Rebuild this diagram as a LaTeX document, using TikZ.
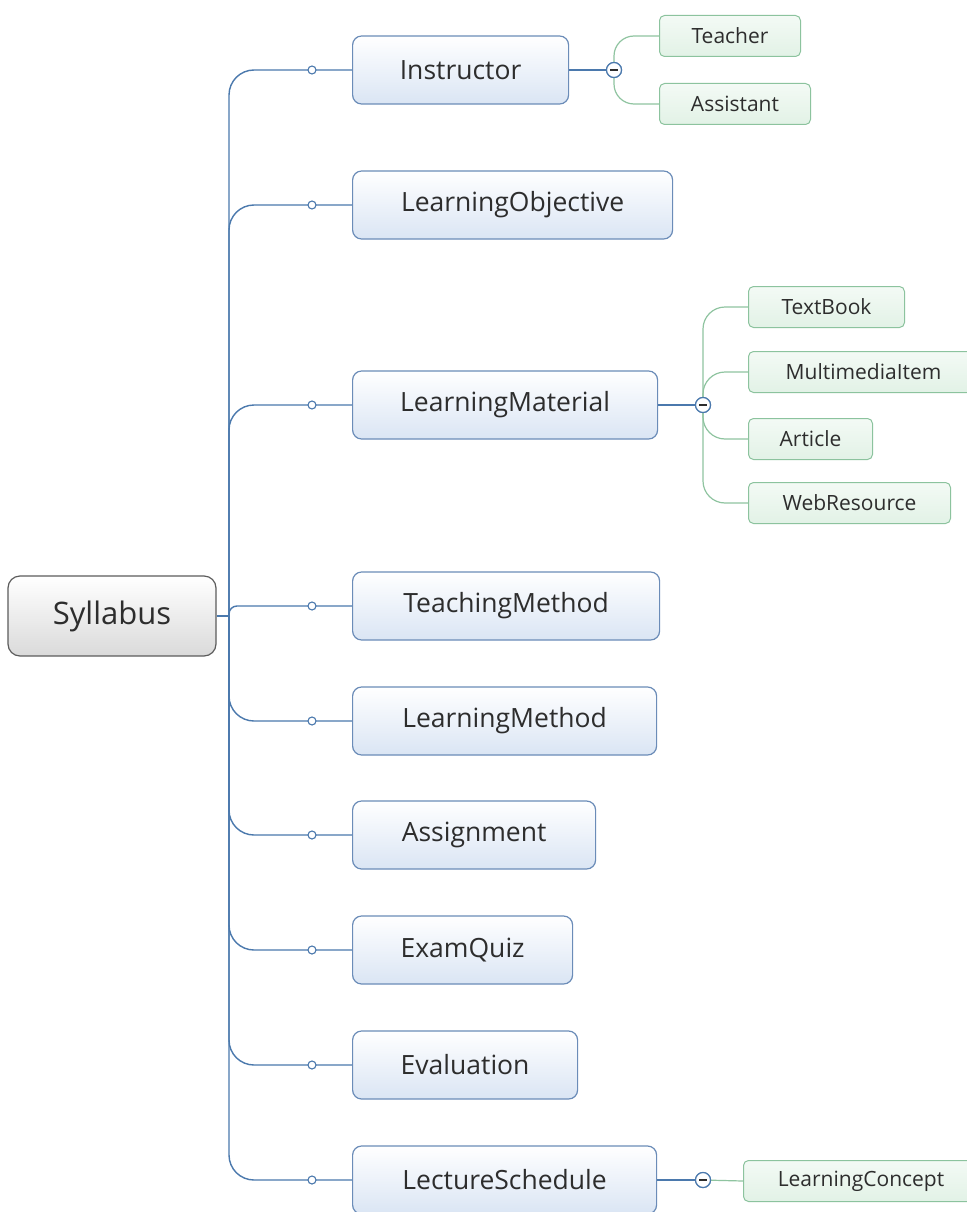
\documentclass[tikz,border=0pt]{standalone}
\usepackage{fontspec}
\setmainfont{Open Sans}
\definecolor{mainborder}{RGB}{107,140,184}
\definecolor{mainfill}{RGB}{218,229,244}
\definecolor{bline}{RGB}{75,121,173}
\definecolor{gborder}{RGB}{140,195,158}
\definecolor{gfill}{RGB}{226,242,230}
\definecolor{gline}{RGB}{143,196,160}
\definecolor{sborder}{RGB}{92,92,92}
\definecolor{sfill}{RGB}{218,218,218}
\definecolor{txt}{RGB}{45,45,45}
\tikzset{
  mainbox/.style={draw=mainborder, line width=1.2pt, rounded corners=9pt, top color=white, bottom color=mainfill, text=txt, font=\fontsize{26.5}{31}\selectfont, minimum height=68pt, inner sep=0pt, anchor=west},
  subbox/.style={draw=gborder, line width=1pt, rounded corners=5pt, top color=white!60!gfill, bottom color=gfill, text=txt, font=\fontsize{21}{25}\selectfont, minimum height=41pt, inner sep=0pt, anchor=west},
  rootbox/.style={draw=sborder, line width=1.2pt, rounded corners=12pt, top color=white, bottom color=sfill, text=txt, font=\fontsize{31}{37}\selectfont, minimum width=208pt, minimum height=80pt, inner sep=0pt},
  branch/.style={draw=bline, line width=1.4pt},
  gbranch/.style={draw=gline, line width=1.2pt},
  dot/.style={circle, draw=bline, fill=white, line width=1.1pt, minimum size=8pt, inner sep=0pt},
  collapse/.style={circle, draw=bline, fill=white, line width=1.2pt, minimum size=15pt, inner sep=0pt},
}
\newcommand{\minusin}[1]{\draw[txt, line width=1.4pt] ([xshift=-4pt]#1.center) -- ([xshift=4pt]#1.center);}
\begin{document}
\begin{tikzpicture}[x=1pt,y=-1pt]
\useasboundingbox (0,0) rectangle (966,1212);
\fill[white] (0,0) rectangle (966,1212);

% root
\node[rootbox] (syl) at (112,616) {Syllabus};
\coordinate (hub) at (229,616);

% main nodes
\node[mainbox, minimum width=216pt] (ins) at (352,70) {Instructor};
\node[mainbox, minimum width=320pt] (lo) at (352,205) {LearningObjective};
\node[mainbox, minimum width=305pt] (lmat) at (352,405) {LearningMaterial};
\node[mainbox, minimum width=307pt] (tm) at (352,606) {TeachingMethod};
\node[mainbox, minimum width=304pt] (lmeth) at (352,721) {LearningMethod};
\node[mainbox, minimum width=243pt] (asg) at (352,835) {Assignment};
\node[mainbox, minimum width=220pt] (eq) at (352,950) {ExamQuiz};
\node[mainbox, minimum width=225pt] (ev) at (352,1065) {Evaluation};
\node[mainbox, minimum width=304pt] (ls) at (352,1180) {LectureSchedule};

% sub nodes
\node[subbox, minimum width=141pt] (teacher) at (659,36) {Teacher};
\node[subbox, minimum width=151pt] (assist) at (659,104) {Assistant};
\node[subbox, minimum width=156pt] (tb) at (748,307) {TextBook};
\node[subbox, minimum width=230pt] (mm) at (748,372) {MultimediaItem};
\node[subbox, minimum width=124pt] (art) at (748,439) {Article};
\node[subbox, minimum width=202pt] (web) at (748,503) {WebResource};
\node[subbox, minimum width=235pt] (lc) at (743,1181) {LearningConcept};

% dots (positions)
\foreach \n/\y in {ins/70,lo/205,lmat/405,tm/606,lmeth/721,asg/835,eq/950,ev/1065,ls/1180}{
  \coordinate (d\n) at (312,\y);
}

% root to hub
\draw[branch] (syl.east) -- (hub);
% branches
\foreach \n in {ins,lo,lmat,lmeth,asg,eq,ev,ls}{
  \draw[branch, rounded corners=25pt] (hub) |- (d\n) -- (\n.west);
}
\draw[branch, rounded corners=8pt] (hub) |- (dtm) -- (tm.west);
\foreach \n in {ins,lo,lmat,tm,lmeth,asg,eq,ev,ls}{
  \node[dot] at (d\n) {};
}

% collapse circles and sub-branches
\node[collapse] (c1) at (614,70) {};
\node[collapse] (c2) at (703,405) {};
\node[collapse] (c3) at (703,1180) {};

\draw[gbranch, rounded corners=20pt] (c1) |- (teacher.west);
\draw[gbranch, rounded corners=20pt] (c1) |- (assist.west);
\draw[gbranch, rounded corners=22pt] (c2) |- (tb.west);
\draw[gbranch, rounded corners=22pt] (c2) |- (mm.west);
\draw[gbranch, rounded corners=22pt] (c2) |- (art.west);
\draw[gbranch, rounded corners=22pt] (c2) |- (web.west);
\draw[gbranch] (c3) -- (lc.west);

\draw[branch] (ins.east) -- (c1.west);
\draw[branch] (lmat.east) -- (c2.west);
\draw[branch] (ls.east) -- (c3.west);

\node[collapse] at (c1) {};
\node[collapse] at (c2) {};
\node[collapse] at (c3) {};
\minusin{c1}
\minusin{c2}
\minusin{c3}
\end{tikzpicture}
\end{document}
